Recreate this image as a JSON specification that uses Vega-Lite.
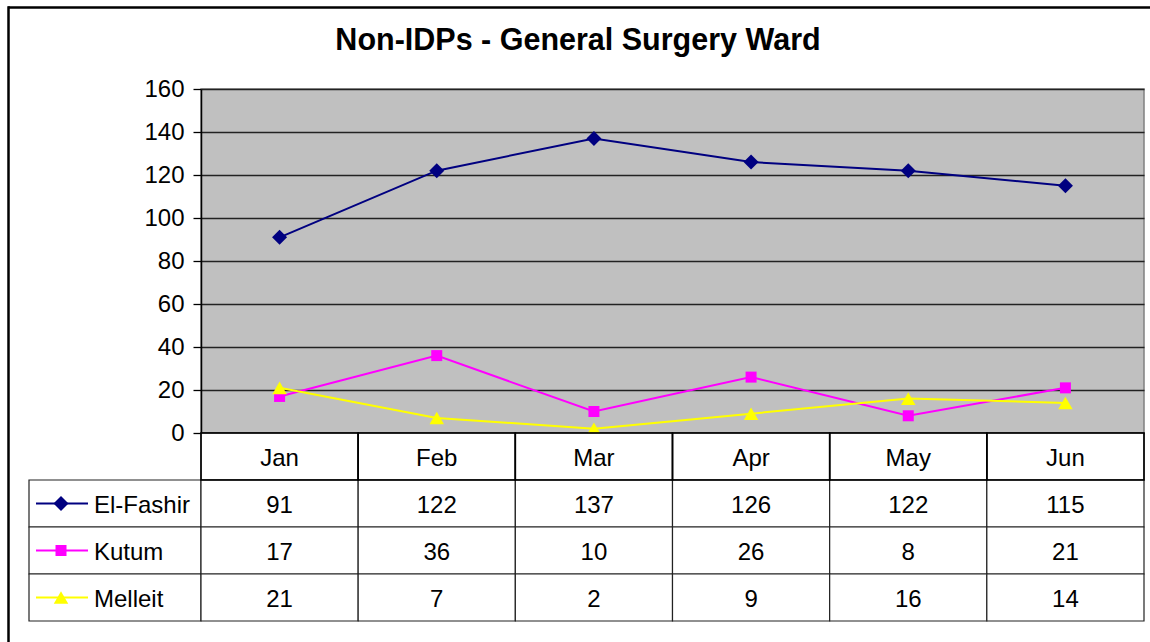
{
  "$schema": "https://vega.github.io/schema/vega-lite/v6.json",
  "padding": {"left": 7, "top": 0, "right": 0, "bottom": 0},
  "background": "white",
  "config": {
    "view": {"stroke": null},
    "font": "Liberation Sans",
    "text": {"font": "Liberation Sans"}
  },
  "datasets": {
    "vals": [
      {"series": "El-Fashir", "month": "Jan", "value": 91},
      {"series": "El-Fashir", "month": "Feb", "value": 122},
      {"series": "El-Fashir", "month": "Mar", "value": 137},
      {"series": "El-Fashir", "month": "Apr", "value": 126},
      {"series": "El-Fashir", "month": "May", "value": 122},
      {"series": "El-Fashir", "month": "Jun", "value": 115},
      {"series": "Kutum", "month": "Jan", "value": 17},
      {"series": "Kutum", "month": "Feb", "value": 36},
      {"series": "Kutum", "month": "Mar", "value": 10},
      {"series": "Kutum", "month": "Apr", "value": 26},
      {"series": "Kutum", "month": "May", "value": 8},
      {"series": "Kutum", "month": "Jun", "value": 21},
      {"series": "Melleit", "month": "Jan", "value": 21},
      {"series": "Melleit", "month": "Feb", "value": 7},
      {"series": "Melleit", "month": "Mar", "value": 2},
      {"series": "Melleit", "month": "Apr", "value": 9},
      {"series": "Melleit", "month": "May", "value": 16},
      {"series": "Melleit", "month": "Jun", "value": 14}
    ],
    "series": [
      {"series": "El-Fashir"},
      {"series": "Kutum"},
      {"series": "Melleit"}
    ],
    "one": [{}],
    "title": [{"t": "Non-IDPs  - General Surgery Ward"}]
  },
  "spacing": 0,
  "bounds": "flush",
  "hconcat": [
    {
      "width": 1,
      "height": 640,
      "view": {"stroke": "black", "strokeWidth": 1.5},
      "data": {"name": "one"},
      "mark": {"type": "text"},
      "encoding": {"text": {"value": ""}}
    },
    {
      "spacing": 0,
      "bounds": "flush",
      "vconcat": [
        {
          "width": 1142,
          "height": 1,
          "view": {"stroke": "black", "strokeWidth": 1.5},
          "data": {"name": "one"},
          "mark": {"type": "text"},
          "encoding": {"text": {"value": ""}}
        },
        {
          "width": 1142,
          "height": 81,
          "data": {"name": "title"},
          "mark": {"type": "text", "fontSize": 30.5, "fontWeight": "bold", "baseline": "alphabetic", "align": "center", "color": "black", "dx": -2, "dy": 1},
          "encoding": {"text": {"field": "t", "type": "nominal"}}
        },
        {
          "columns": 2,
          "spacing": 0,
          "bounds": "flush",
          "resolve": {"scale": {"x": "independent", "y": "independent"}},
          "concat": [
            {
              "width": 192,
              "height": 344,
              "data": {"name": "one"},
              "mark": {"type": "text"},
              "encoding": {"text": {"value": ""}}
            },
            {
              "width": 943,
              "height": 344,
              "view": {"fill": "#C0C0C0", "stroke": "#808080", "strokeWidth": 1.5},
              "data": {"name": "vals"},
              "encoding": {
                "x": {
                  "field": "month",
                  "type": "ordinal",
                  "scale": {"type": "point", "padding": 0.5, "domain": ["Jan", "Feb", "Mar", "Apr", "May", "Jun"]},
                  "axis": null
                },
                "y": {
                  "field": "value",
                  "type": "quantitative",
                  "scale": {"domain": [0, 160], "nice": false},
                  "axis": {
                    "title": null,
                    "values": [0, 20, 40, 60, 80, 100, 120, 140, 160],
                    "labelFontSize": 24,
                    "labelColor": "black",
                    "labelFont": "Liberation Sans",
                    "labelPadding": 9,
                    "tickSize": 8,
                    "tickColor": "black",
                    "tickWidth": 1.3,
                    "domainColor": "black",
                    "domainWidth": 1.5,
                    "grid": true,
                    "gridColor": "#222222",
                    "gridWidth": 1.4,
                    "gridOpacity": 1
                  }
                },
                "color": {
                  "field": "series",
                  "type": "nominal",
                  "scale": {"domain": ["El-Fashir", "Kutum", "Melleit"], "range": ["#000080", "#FF00FF", "#FFFF00"]},
                  "legend": null
                }
              },
              "layer": [
                {"mark": {"type": "line", "strokeWidth": 2}},
                {
                  "mark": {"type": "point", "filled": true, "opacity": 1},
                  "encoding": {
                    "shape": {
                      "field": "series",
                      "type": "nominal",
                      "scale": {"domain": ["El-Fashir", "Kutum", "Melleit"], "range": ["diamond", "square", "triangle-up"]},
                      "legend": null
                    },
                    "size": {
                      "field": "series",
                      "type": "nominal",
                      "scale": {"type": "ordinal", "domain": ["El-Fashir", "Kutum", "Melleit"], "range": [225, 121, 210]},
                      "legend": null
                    }
                  }
                }
              ]
            },
            {
              "width": 192,
              "height": 188,
              "data": {"name": "series"},
              "encoding": {
                "y": {
                  "field": "series",
                  "type": "nominal",
                  "scale": {"domain": ["hdr", "El-Fashir", "Kutum", "Melleit"], "paddingInner": 0, "paddingOuter": 0},
                  "axis": null
                }
              },
              "layer": [
                {
                  "mark": {"type": "rect", "fill": "white", "stroke": "#222222", "strokeWidth": 1.2},
                  "encoding": {
                    "x": {"datum": 20, "type": "quantitative", "scale": {"domain": [0, 192], "nice": false, "zero": false}, "axis": null},
                    "x2": {"datum": 192}
                  }
                },
                {
                  "mark": {"type": "rule", "strokeWidth": 2},
                  "encoding": {
                    "x": {"datum": 27, "type": "quantitative"},
                    "x2": {"datum": 79},
                    "color": {
                      "field": "series",
                      "type": "nominal",
                      "scale": {"domain": ["El-Fashir", "Kutum", "Melleit"], "range": ["#000080", "#FF00FF", "#FFFF00"]},
                      "legend": null
                    }
                  }
                },
                {
                  "mark": {"type": "point", "filled": true, "opacity": 1},
                  "encoding": {
                    "x": {"datum": 52, "type": "quantitative"},
                    "color": {
                      "field": "series",
                      "type": "nominal",
                      "scale": {"domain": ["El-Fashir", "Kutum", "Melleit"], "range": ["#000080", "#FF00FF", "#FFFF00"]},
                      "legend": null
                    },
                    "shape": {
                      "field": "series",
                      "type": "nominal",
                      "scale": {"domain": ["El-Fashir", "Kutum", "Melleit"], "range": ["diamond", "square", "triangle-up"]},
                      "legend": null
                    },
                    "size": {
                      "field": "series",
                      "type": "nominal",
                      "scale": {"type": "ordinal", "domain": ["El-Fashir", "Kutum", "Melleit"], "range": [160, 121, 260]},
                      "legend": null
                    }
                  }
                },
                {
                  "mark": {"type": "text", "align": "left", "baseline": "middle", "fontSize": 24, "color": "black", "dy": 2},
                  "encoding": {
                    "x": {"datum": 85, "type": "quantitative"},
                    "text": {"field": "series", "type": "nominal"}
                  }
                }
              ]
            },
            {
              "width": 943,
              "height": 188,
              "data": {"name": "vals"},
              "layer": [
                {
                  "transform": [{"filter": "datum.series === 'El-Fashir'"}],
                  "mark": {"type": "rect", "fill": "white", "stroke": "#222222", "strokeWidth": 1.2},
                  "encoding": {
                    "x": {
                      "field": "month",
                      "type": "ordinal",
                      "scale": {"domain": ["Jan", "Feb", "Mar", "Apr", "May", "Jun"], "paddingInner": 0, "paddingOuter": 0},
                      "axis": null
                    },
                    "y": {
                      "datum": "hdr",
                      "type": "nominal",
                      "scale": {"domain": ["hdr", "El-Fashir", "Kutum", "Melleit"], "paddingInner": 0, "paddingOuter": 0},
                      "axis": null
                    }
                  }
                },
                {
                  "mark": {"type": "rect", "fill": "white", "stroke": "#222222", "strokeWidth": 1.2},
                  "encoding": {
                    "x": {"field": "month", "type": "ordinal"},
                    "y": {"field": "series", "type": "nominal"}
                  }
                },
                {
                  "mark": {"type": "rect", "fill": null, "stroke": "black", "strokeWidth": 1.5},
                  "transform": [{"filter": "datum.series === 'El-Fashir'"}],
                  "encoding": {
                    "x": {"field": "month", "type": "ordinal"},
                    "y": {"datum": "hdr", "type": "nominal"}
                  }
                },
                {
                  "transform": [{"filter": "datum.series === 'El-Fashir'"}],
                  "mark": {"type": "text", "fontSize": 24, "color": "black", "baseline": "middle", "dy": 2},
                  "encoding": {
                    "x": {"field": "month", "type": "ordinal"},
                    "y": {"datum": "hdr", "type": "nominal"},
                    "text": {"field": "month", "type": "nominal"}
                  }
                },
                {
                  "mark": {"type": "text", "fontSize": 24, "color": "black", "baseline": "middle", "dy": 2},
                  "encoding": {
                    "x": {"field": "month", "type": "ordinal"},
                    "y": {"field": "series", "type": "nominal"},
                    "text": {"field": "value", "type": "quantitative"}
                  }
                }
              ]
            }
          ]
        }
      ]
    }
  ]
}
